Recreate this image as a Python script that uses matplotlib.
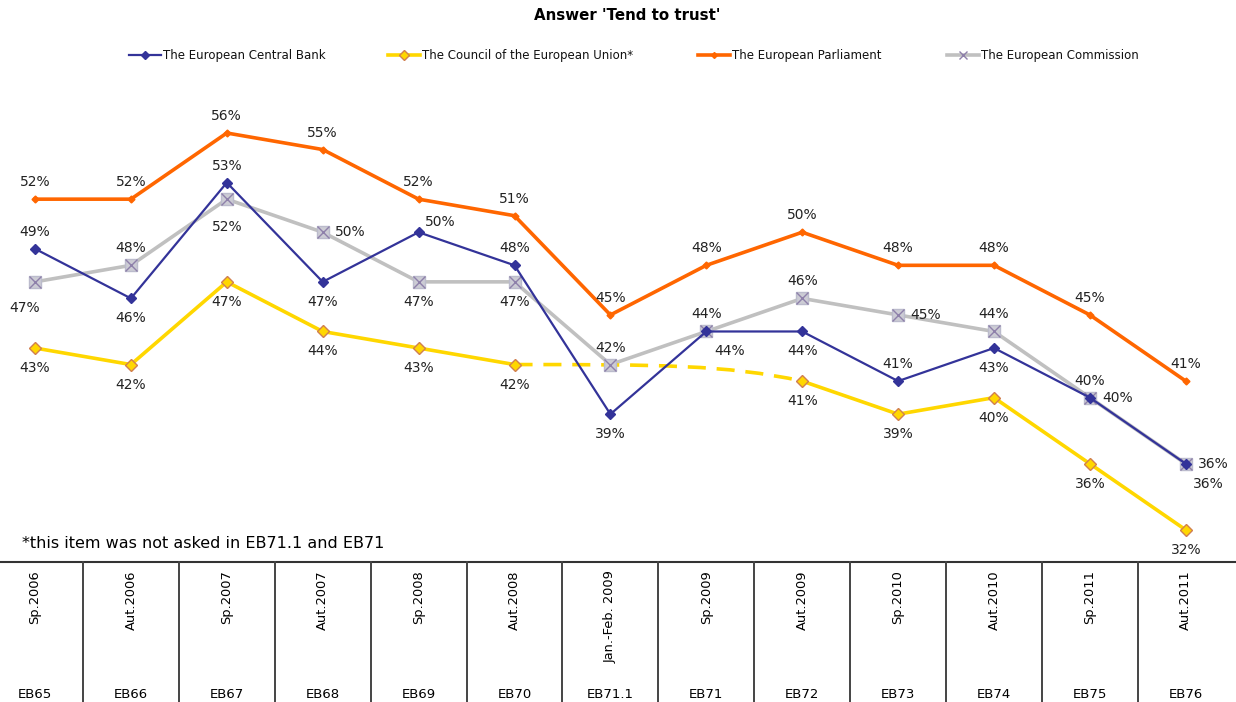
import matplotlib
matplotlib.use("Agg")
import matplotlib.pyplot as plt
import numpy as np
from matplotlib.path import Path
from matplotlib.patches import PathPatch

plt.rcParams['font.family'] = ['DejaVu Sans']

periods = ['Sp.2006', 'Aut.2006', 'Sp.2007', 'Aut.2007', 'Sp.2008', 'Aut.2008',
           'Jan.-Feb. 2009', 'Sp.2009', 'Aut.2009', 'Sp.2010', 'Aut.2010', 'Sp.2011', 'Aut.2011']
waves = ['EB65', 'EB66', 'EB67', 'EB68', 'EB69', 'EB70', 'EB71.1', 'EB71', 'EB72',
         'EB73', 'EB74', 'EB75', 'EB76']

ecb = [49, 46, 53, 47, 50, 48, 39, 44, 44, 41, 43, 40, 36]
council = [43, 42, 47, 44, 43, 42, np.nan, np.nan, 41, 39, 40, 36, 32]
parliament = [52, 52, 56, 55, 52, 51, 45, 48, 50, 48, 48, 45, 41]
commission = [47, 48, 52, 50, 47, 47, 42, 44, 46, 45, 44, 40, 36]

# where each value label sits relative to its point (pixels)
off = {'a': (0, 17), 'b': (0, -20), 'r': (28, 0), 'br': (23, -20), 'ar': (22, 10),
       'bl': (-10, -26), 'bb': (0, -28)}
ecb_pos = ['a', 'b', 'a', 'b', 'ar', 'a', 'b', 'br', 'b', 'a', 'b', 'a', 'br']
council_pos = ['b'] * 13
parl_pos = ['a'] * 13
comm_pos = ['bl', 'a', 'bb', 'r', 'b', 'b', 'a', 'a', 'a', 'r', 'a', 'r', 'r']

W, H = 1236, 702
fig = plt.figure(figsize=(W / 100, H / 100), dpi=100)
x = np.arange(len(waves))
x0, dx = 35, 95.9
xlim = (-x0 / dx, (W - x0) / dx)
ppv = 16.54
ylo = 56 - (560 - 133) / ppv
yhi = 56 + (133 - 80) / ppv

ax = fig.add_axes([0, (H - 560) / H, 1, (560 - 80) / H])
ax.set_xlim(*xlim)
ax.set_ylim(ylo, yhi)
ax.axis('off')

c_ecb = '#333399'
c_cou = '#FFD700'
c_par = '#FF6600'
c_com = '#C0C0C0'

ax.plot(x, parliament, color=c_par, lw=2.6, marker='D', ms=3.5, mfc=c_par, mec=c_par, zorder=3)
ax.plot(x, commission, color=c_com, lw=2.6, zorder=3)
ax.plot(x, commission, ls='none', marker='s', ms=9, mfc='#CCCCD4', mec='#BBBBCC', zorder=4)
ax.plot(x, commission, ls='none', marker='x', ms=9, mew=1.0, color='#8E80AA', zorder=5)
ax.plot(x, ecb, color=c_ecb, lw=1.6, marker='D', ms=5, mfc=c_ecb, mec=c_ecb, zorder=6)
ax.plot(x, council, color=c_cou, lw=2.6, zorder=3)
# dashed bridge over the waves where the item was not asked
i0, i1 = 5, 8
verts = [(i0, council[i0]), (i0 + 1.5, council[i0]), (i0 + 2.2, council[i0]), (i1, council[i1])]
bridge = Path(verts, [Path.MOVETO, Path.CURVE4, Path.CURVE4, Path.CURVE4])
ax.add_patch(PathPatch(bridge, fill=False, ec=c_cou, lw=2.6, ls=(0, (5, 3)), zorder=3))
ax.plot(x, council, ls='none', marker='D', ms=6, mfc='#FFD700', mec='#D08050', mew=1.0, zorder=7)

fs = 10
for vals, pos in [(parliament, parl_pos), (commission, comm_pos), (ecb, ecb_pos), (council, council_pos)]:
    for i, v in enumerate(vals):
        if np.isnan(v):
            continue
        ox, oy = off[pos[i]]
        ax.annotate('%d%%' % v, (i, v), xytext=(ox, oy), textcoords='offset pixels',
                    ha='center', va='center', fontsize=fs, color='#222222', zorder=10)

# overlay in pixel coordinates for title, legend and note
ov = fig.add_axes([0, 0, 1, 1], zorder=-1)
ov.set_xlim(0, W)
ov.set_ylim(H, 0)
ov.axis('off')
ov.text(627, 16, "Answer 'Tend to trust'", ha='center', va='center', fontsize=10.8, fontweight='bold')
legend_items = [(129, 'The European Central Bank', c_ecb, 'ecb'),
                (388, 'The Council of the European Union*', c_cou, 'cou'),
                (698, 'The European Parliament', c_par, 'par'),
                (947, 'The European Commission', c_com, 'com')]
for lx, lab, col, key in legend_items:
    ly = 55
    xm = lx + 16
    if key == 'ecb':
        ov.plot([lx, lx + 32], [ly, ly], color=col, lw=1.6)
        ov.plot([xm], [ly], marker='D', ms=4, color=col)
    elif key == 'cou':
        ov.plot([lx, lx + 32], [ly, ly], color=col, lw=2.6)
        ov.plot([xm], [ly], marker='D', ms=5, mfc=col, mec='#D08050')
    elif key == 'par':
        ov.plot([lx, lx + 32], [ly, ly], color=col, lw=2.6)
        ov.plot([xm], [ly], marker='D', ms=3, color=col)
    else:
        ov.plot([lx, lx + 32], [ly, ly], color=col, lw=2.6)
        ov.plot([xm], [ly], marker='x', ms=6, mew=1.0, color='#8E80AA')
    ov.text(lx + 34, ly, lab, ha='left', va='center', fontsize=8.5, color='#111111')

ov.text(22, 544, '*this item was not asked in EB71.1 and EB71', ha='left', va='center', fontsize=11.5)

# table under the chart
tb = fig.add_axes([0, 0, 1, (H - 562) / H])
tb.set_xlim(*xlim)
tb.set_ylim(0, 1)
tb.axis('off')
tb.axhline(1, color='#333333', lw=1.5, clip_on=False)
for i in range(len(waves) - 1):
    tb.plot([i + 0.5, i + 0.5], [0, 1], color='#444444', lw=1.4, clip_on=False)
for i in range(len(waves)):
    tb.text(i, (H - 570) / 140, periods[i], rotation=90, ha='center', va='top', fontsize=9.4)
    tb.text(i, (H - 694) / 140, waves[i], ha='center', va='center', fontsize=9.5)

fig.savefig('out.png', dpi=100)
